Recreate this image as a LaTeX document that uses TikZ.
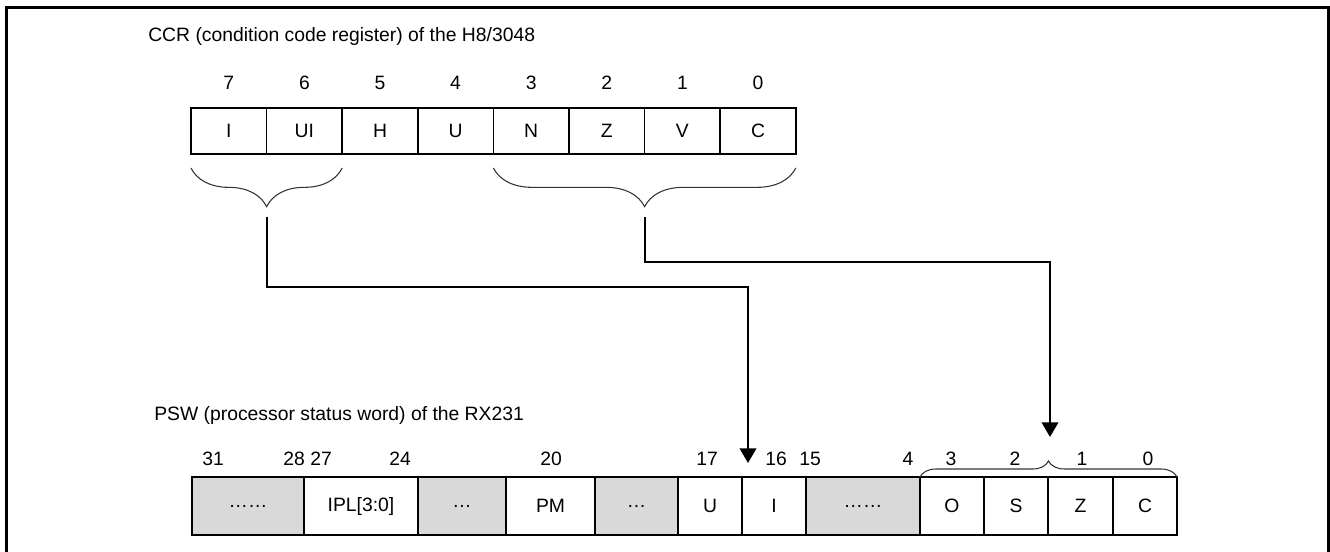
\documentclass[tikz,border=0pt]{standalone}
\usepackage{fontspec}
\setmainfont{Liberation Sans}
\usetikzlibrary{arrows.meta,calc,decorations.pathreplacing}

\definecolor{cellgray}{RGB}{217,217,217}

\tikzset{
  regtext/.style={font=\fontsize{14.5}{17}\selectfont},
  bitcell/.style={regtext, draw, line width=1.1pt, inner sep=0pt, outer sep=0pt, anchor=west},
  bitnum/.style={regtext, inner sep=0pt},
  regbrace/.style={decorate, line width=0.8pt, draw=black!80},
  conn/.style={line width=1.1pt, -{Triangle[width=12.5pt, length=11pt]}}
}

\begin{document}
\begin{tikzpicture}[x=0.75pt, y=-0.75pt]
            \useasboundingbox (0,0) rectangle (1330,552);

            % Frame
            \draw[line width=2pt] (6.5,552) -- (6.5,7.5) -- (1328.5,7.5) -- (1328.5,552);

            % CCR of the H8/3048
            \node[regtext, anchor=west, inner sep=0pt] (ccrtitle) at (148,37) {CCR (condition code register) of the H8/3048};
            \foreach \n/\t [count=\i from 0] in {7/I, 6/UI, 5/H, 4/U, 3/N, 2/Z, 1/V, 0/C} {
                \node[bitcell, minimum width=75.6*0.75pt, minimum height=46*0.75pt] (ccr\n) at ({191+75.6*\i},131) {\t};
                \node[bitnum] (ccrnum\n) at ({228.8+75.6*\i},83) {\n};
            }

            % Braces under the CCR
            \draw[regbrace, decoration={brace, mirror, amplitude=29pt}] ($(ccr7.south west)+(0,14)$) -- ($(ccr6.south east)+(0,14)$);
            \draw[regbrace, decoration={brace, mirror, amplitude=29pt}] ($(ccr3.south west)+(0,14)$) -- ($(ccr0.south east)+(0,14)$);

            % PSW of the RX231
            \node[regtext, anchor=west, inner sep=0pt] (pswtitle) at (154,415) {PSW (processor status word) of the RX231};
            \foreach \l/\r/\c/\t/\nm in {192/304/cellgray/{……}/pA, 304/418/white/{IPL[3:0]}/pIPL, 418/506/cellgray/{…}/pB,
                                         506/595/white/PM/pPM, 595/678/cellgray/{…}/pC, 678/742/white/U/pU, 742/806/white/I/pI,
                                         806/920/cellgray/{……}/pD, 920/984/white/O/pO, 984/1048/white/S/pS,
                                         1048/1113/white/Z/pZ, 1113/1177/white/C/pC0} {
                \node[bitcell, fill=\c, minimum width={(\r-\l)*0.75pt}, minimum height=58*0.75pt] (\nm) at (\l,506) {\t};
            }
            \foreach \n/\x in {31/213, 28/294, 27/321, 24/400, 20/551, 17/707, 16/776, 15/810, 4/908, 3/951, 2/1015, 1/1082, 0/1148}
                \node[bitnum] (pswnum\n) at (\x,459) {\n};

            % Brace over bits 3..0
            \draw[regbrace, decoration={brace, amplitude=12pt}] (pO.north west) -- (pC0.north east);

            % Connectors
            \coordinate (ccrIo) at (267,217);
            \coordinate (ccrNo) at (645,217);
            \coordinate (pswIin) at (748,463);
            \coordinate (pswZin) at (1050,437);
            \draw[conn] (ccrIo) -- ++(0,70) -| (pswIin);
            \draw[conn] (ccrNo) -- ++(0,45) -| (pswZin);
        \end{tikzpicture}
\end{document}
